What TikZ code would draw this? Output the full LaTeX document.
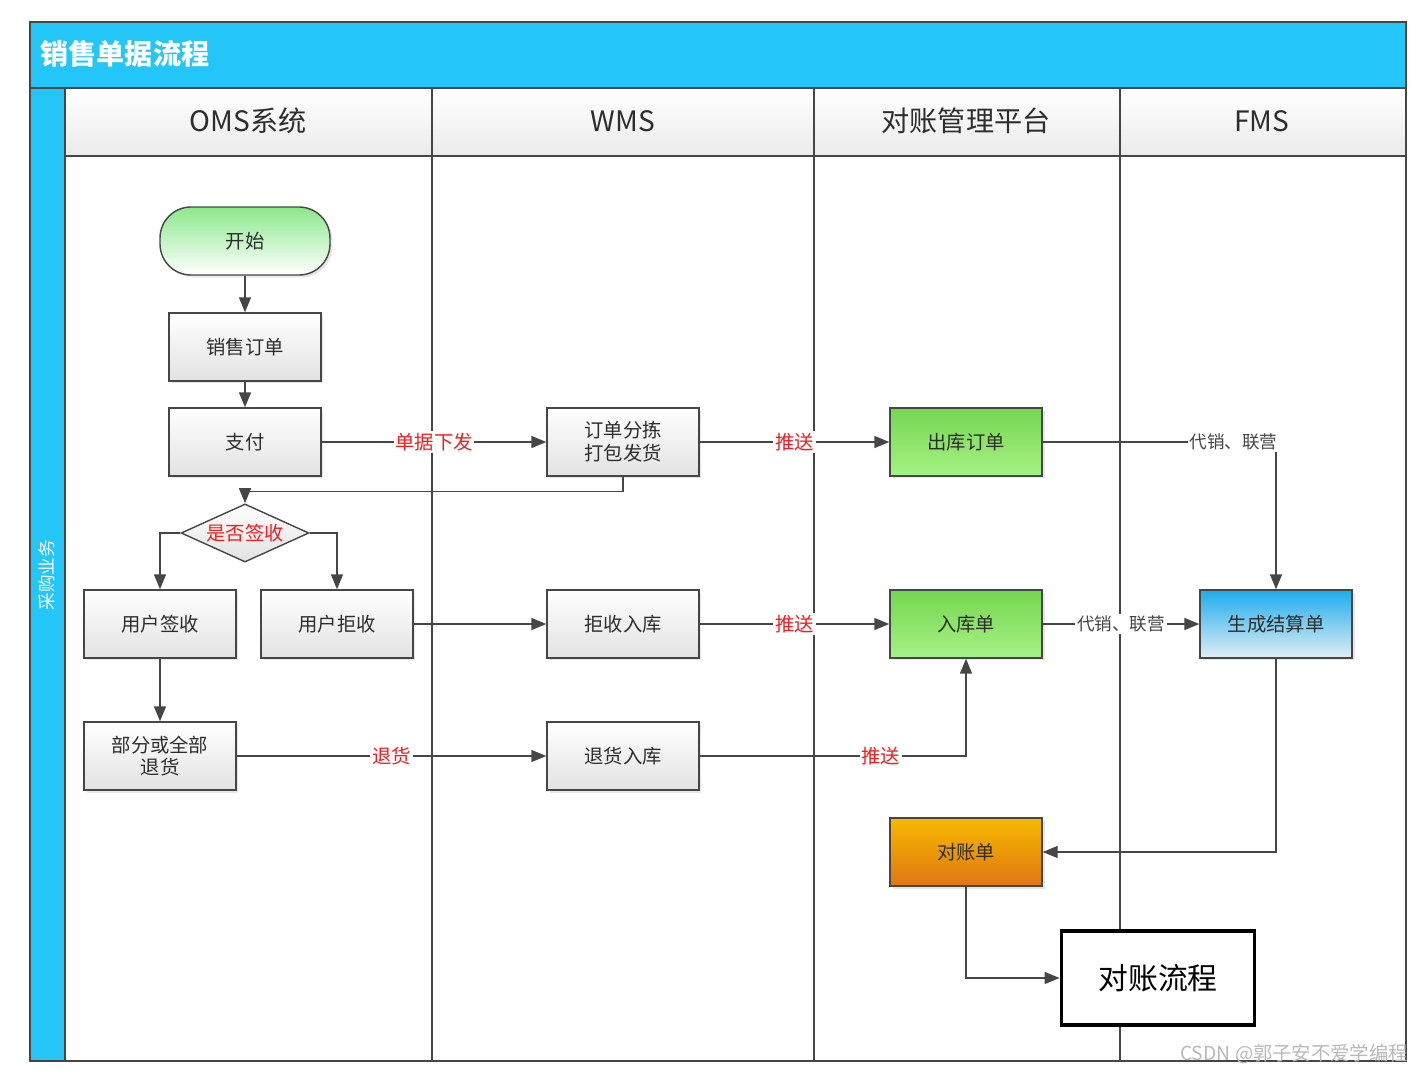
\documentclass[tikz,border=0pt]{standalone}
\usepackage{fontspec}
\setmainfont{Noto Sans CJK SC}
\usepackage{tikz}
\usetikzlibrary{arrows.meta}
\usetikzlibrary{shapes.geometric}
\usetikzlibrary{shadows}

\definecolor{lanecyan}{RGB}{36,198,248}
\definecolor{linegray}{RGB}{70,70,70}
\definecolor{textgray}{RGB}{45,45,45}
\definecolor{boxgray}{RGB}{226,226,226}
\definecolor{greentop}{RGB}{118,214,78}
\definecolor{greenbot}{RGB}{165,242,135}
\definecolor{starttop}{RGB}{140,232,140}
\definecolor{bluetop}{RGB}{28,172,236}
\definecolor{bluebot}{RGB}{226,238,244}
\definecolor{orangetop}{RGB}{246,186,0}
\definecolor{orangebot}{RGB}{224,118,18}
\definecolor{labelred}{RGB}{240,30,30}

\begin{document}
\begin{tikzpicture}[x=0.02cm, y=-0.02cm, thick,
    box/.style={shape=rectangle, draw=linegray, top color=white, bottom color=boxgray,
        minimum width=3.04cm, minimum height=1.36cm, align=center, text=textgray,
        font=\fontsize{11}{13}\selectfont,
        drop shadow={shadow xshift=0.05cm, shadow yshift=-0.05cm, opacity=0.2}},
    greenbox/.style={box, top color=greentop, bottom color=greenbot},
    bluebox/.style={box, top color=bluetop, bottom color=bluebot},
    orangebox/.style={box, top color=orangetop, bottom color=orangebot},
    header/.style={draw=linegray, top color=white, bottom color=boxgray!70},
    headtext/.style={text=textgray, font=\fontsize{16}{18}\selectfont},
    flow/.style={draw=linegray, -{Triangle[length=0.3cm, width=0.24cm]}},
    redlabel/.style={fill=white, inner sep=1pt, text=labelred, font=\fontsize{11}{13}\selectfont},
    graylabel/.style={fill=white, inner sep=1pt, text=linegray, font=\fontsize{10}{12}\selectfont}]

        \useasboundingbox (0,0) rectangle (1425,1074);

        % title bar and side strip
        \draw[draw=linegray, fill=lanecyan] (30,22) rectangle (1406,88);
        \node (title) at (34,54) [anchor=west, text=white, font=\fontsize{16}{18}\selectfont\bfseries] {销售单据流程};
        \draw[draw=linegray, fill=lanecyan] (30,88) rectangle (65,1061);
        \node (side) at (47,575) [rotate=90, text=white, font=\fontsize{10}{12}\selectfont] {采购业务};

        % lane headers
        \draw[header] (65,88) rectangle (432,156);
        \draw[header] (432,88) rectangle (814,156);
        \draw[header] (814,88) rectangle (1120,156);
        \draw[header] (1120,88) rectangle (1406,156);
        \node (homs) at (248,121) [headtext] {OMS系统};
        \node (hwms) at (623,121) [headtext] {WMS};
        \node (hrec) at (966,121) [headtext] {对账管理平台};
        \node (hfms) at (1262,121) [headtext] {FMS};

        % lanes
        \draw[linegray] (432,156) -- (432,1061);
        \draw[linegray] (814,156) -- (814,1061);
        \draw[linegray] (1120,156) -- (1120,1061);
        \draw[linegray] (30,22) rectangle (1406,1061);

        % OMS
        \node (start) at (245,241) [box, top color=starttop, bottom color=white, rounded corners=0.62cm, minimum width=3.4cm] {开始};
        \node (order) at (245,347) [box] {销售订单};
        \node (pay) at (245,442) [box] {支付};
        \node (sign) at (245,533) [shape=diamond, draw=linegray, top color=white, bottom color=boxgray,
            aspect=2.2, inner sep=1pt, text=labelred, font=\fontsize{11}{13}\selectfont] {是否签收};
        \node (accept) at (160,624) [box] {用户签收};
        \node (reject) at (337,624) [box] {用户拒收};
        \node (ret) at (160,756) [box] {部分或全部\\退货};

        % WMS
        \node (pick) at (623,442) [box] {订单分拣\\打包发货};
        \node (rejin) at (623,624) [box] {拒收入库};
        \node (retin) at (623,756) [box] {退货入库};

        % reconciliation
        \node (out) at (966,442) [greenbox] {出库订单};
        \node (inb) at (966,624) [greenbox] {入库单};
        \node (check) at (966,852) [orangebox] {对账单};

        % FMS
        \node (bill) at (1276,624) [bluebox] {生成结算单};
        \node (recon) at (1158,978) [shape=rectangle, draw=black, line width=2.2pt, fill=white,
            minimum width=3.86cm, minimum height=1.88cm, font=\fontsize{17}{19}\selectfont] {对账流程};

        \draw[flow] (start) -- (order);
        \draw[flow] (order) -- (pay);
        \draw[flow] (pay) -- node[redlabel] {单据下发} (pick);
        \draw[flow] (pick.south) -- ++(0,15) -| (sign.north);
        \draw[flow] (pick) -- node[redlabel] {推送} (out);
        \draw[flow] (out) -| node[graylabel, anchor=east, xshift=0.08cm] {代销、联营} (bill.north);
        \draw[flow] (sign.west) -| (accept.north);
        \draw[flow] (sign.east) -| (reject.north);
        \draw[flow] (reject) -- (rejin);
        \draw[flow] (rejin) -- node[redlabel] {推送} (inb);
        \draw[flow] (inb) -- node[graylabel] {代销、联营} (bill);
        \draw[flow] (accept) -- (ret);
        \draw[flow] (ret) -- node[redlabel] {退货} (retin);
        \draw[flow] (retin) -| node[redlabel, pos=0.34] {推送} (inb.south);
        \draw[flow] (bill.south) |- (check.east);
        \draw[flow] (check.south) |- (recon.west);

        \node (mark) at (1294,1054) [text=gray!55, font=\fontsize{11}{13}\selectfont] {CSDN @郭子安不爱学编程};
    \end{tikzpicture}
\end{document}
